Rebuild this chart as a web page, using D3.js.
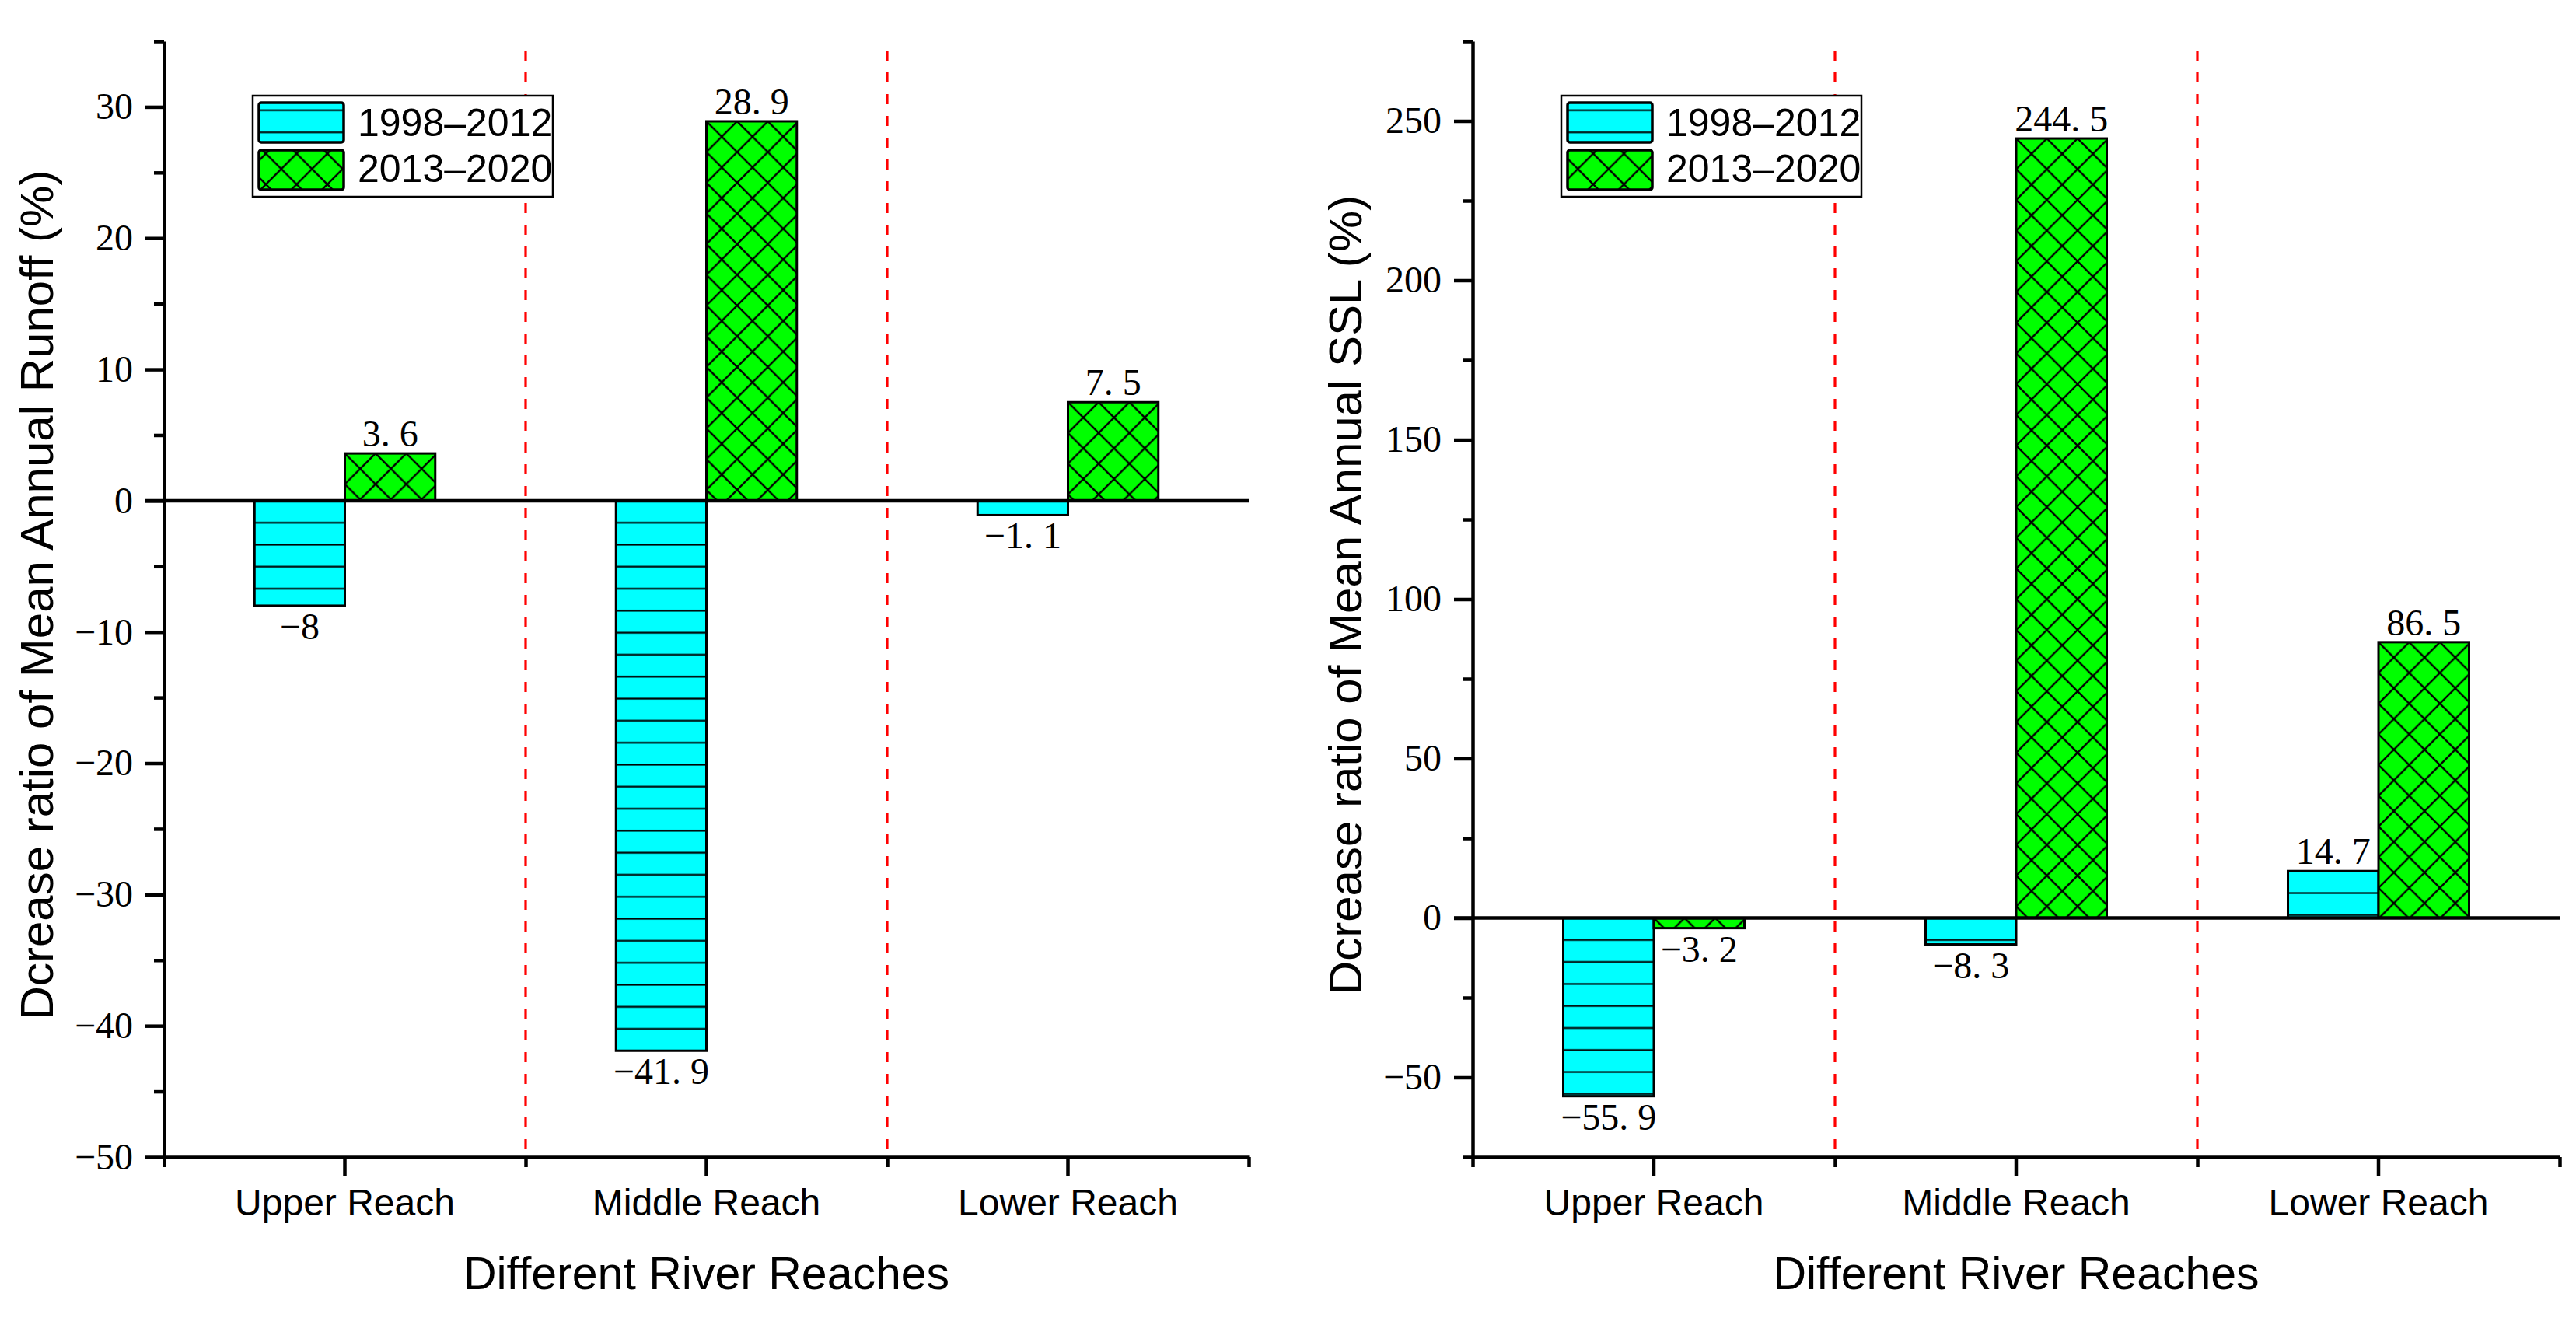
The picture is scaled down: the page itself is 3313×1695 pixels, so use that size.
<!DOCTYPE html>
<html>
<head>
<meta charset="utf-8">
<script src="https://cdn.jsdelivr.net/npm/d3@7"></script>
<style>
  body { margin: 0; background: #fff; }
</style>
</head>
<body>
<div id="canvas"></div>
<script>
var reaches = ["Upper Reach", "Middle Reach", "Lower Reach"]
var periods = ["1998\u20132012", "2013\u20132020"]

// left panel: runoff
var runoff1998 = [-8, -41.9, -1.1]
var runoff2013 = [3.6, 28.9, 7.5]
var runoffMajor = [-50, -40, -30, -20, -10, 0, 10, 20, 30]
var runoffMinor = [-45, -35, -25, -15, -5, 5, 15, 25, 35]

// right panel: SSL
var ssl1998 = [-55.9, -8.3, 14.7]
var ssl2013 = [-3.2, 244.5, 86.5]
var sslMajor = [-50, 0, 50, 100, 150, 200, 250]
var sslMinor = [-75, -25, 25, 75, 125, 175, 225, 275]

var width = 3313
var height = 1695
var plotTop = 53
var plotBottom = 1488

var cyan = "#00ffff"
var green = "#00ff00"
var serif = "'Liberation Serif', 'Times New Roman', serif"
var sans = "'Liberation Sans', Arial, sans-serif"

var svg = d3.select("#canvas")
    .append("svg")
    .attr("width", width)
    .attr("height", height)
    .style("display", "block")

svg.append("rect").attr("width", width).attr("height", height).attr("fill", "#fff")

var defs = svg.append("defs")
var patCount = 0

// hatch patterns are anchored at the top-left corner of each shape
function hatch(kind, x, y) {
    var id = "pat" + (patCount++)
    if (kind == 0) {
        var h = 28.3
        var p = defs.append("pattern")
            .attr("id", id)
            .attr("patternUnits", "userSpaceOnUse")
            .attr("width", 20)
            .attr("height", h)
            .attr("patternTransform", `translate(${x},${y - h / 2})`)
        p.append("rect").attr("width", 20).attr("height", h).attr("fill", cyan)
        p.append("line").attr("x1", 0).attr("x2", 20).attr("y1", h / 2).attr("y2", h / 2)
            .attr("stroke", "#000").attr("stroke-width", 2.2)
    } else {
        var s = 39.5
        var p = defs.append("pattern")
            .attr("id", id)
            .attr("patternUnits", "userSpaceOnUse")
            .attr("width", s)
            .attr("height", s)
            .attr("patternTransform", `translate(${x},${y})`)
        p.append("rect").attr("width", s).attr("height", s).attr("fill", green)
        p.append("path")
            .attr("d", `M0,0L${s},${s}M${s},0L0,${s}M-4,${s - 4}L4,${s + 4}M${s - 4},-4L${s + 4},4M-4,4L4,-4M${s - 4},${s + 4}L${s + 4},${s - 4}`)
            .attr("stroke", "#000").attr("stroke-width", 2.4).attr("fill", "none")
    }
    return "url(#" + id + ")"
}

function fmt(v) {
    var a = Math.abs(v)
    var s = Number.isInteger(a) ? String(a) : a.toFixed(1).replace(".", ". ")
    return (v < 0 ? "\u2212" : "") + s
}

function drawPanel(o) {
    var g = svg.append("g")

    var xScale = d3.scaleBand().domain(reaches).range([o.x0, o.x1])
    var xEdges = d3.scaleLinear().domain([0, 3]).range([o.x0, o.x1])
    var yScale = d3.scaleLinear().domain(o.domain).range([plotBottom, plotTop])
    var bw = xScale.bandwidth() / 4

    // red dashed separators
    g.selectAll(".sep")
        .data([1, 2])
        .enter().append("line")
        .attr("x1", d => xEdges(d)).attr("x2", d => xEdges(d))
        .attr("y1", 65).attr("y2", plotBottom)
        .attr("stroke", "#ff0000")
        .attr("stroke-width", 3.2)
        .attr("stroke-dasharray", "13,15")

    // bars
    var rows = []
    reaches.forEach(function (r, i) {
        rows.push({ reach: r, s: 0, v: o.a[i] })
        rows.push({ reach: r, s: 1, v: o.b[i] })
    })
    rows.forEach(function (d) {
        d.x = xScale(d.reach) + xScale.bandwidth() / 2 + (d.s == 0 ? -bw : 0)
        d.top = yScale(Math.max(0, d.v))
        d.h = Math.abs(yScale(d.v) - yScale(0))
    })
    g.selectAll(".bar")
        .data(rows)
        .enter().append("rect")
        .attr("class", "bar")
        .attr("x", d => d.x)
        .attr("y", d => d.top)
        .attr("width", bw)
        .attr("height", d => d.h)
        .attr("fill", d => hatch(d.s, d.x, d.top))
        .attr("stroke", "#000")
        .attr("stroke-width", 3)

    // zero line
    g.append("line")
        .attr("x1", o.x0 - 24).attr("x2", o.x1)
        .attr("y1", yScale(0)).attr("y2", yScale(0))
        .attr("stroke", "#000").attr("stroke-width", 4.5)

    // value labels
    g.selectAll(".val")
        .data(rows)
        .enter().append("text")
        .attr("x", d => d.x + bw / 2)
        .attr("y", d => d.v >= 0 ? yScale(d.v) - 9 : yScale(d.v) + 43)
        .attr("text-anchor", "middle")
        .style("font-family", serif)
        .style("font-size", "48px")
        .text(d => fmt(d.v))

    // y axis
    var yAxis = g.append("g")
        .attr("transform", `translate(${o.x0},0)`)
        .call(d3.axisLeft(yScale).tickValues(o.major).tickSize(24).tickSizeOuter(0).tickPadding(16))
    yAxis.selectAll("text").style("font-family", serif).style("font-size", "48px").attr("fill", "#000")
    yAxis.selectAll("line").attr("stroke-width", 4.5)
    yAxis.select(".domain").attr("stroke-width", 4.5)

    var yMinor = g.append("g")
        .attr("transform", `translate(${o.x0},0)`)
        .call(d3.axisLeft(yScale).tickValues(o.minor).tickSize(13).tickSizeOuter(0).tickFormat(""))
    yMinor.selectAll("line").attr("stroke-width", 4.5)
    yMinor.select(".domain").remove()

    // x axis
    var xAxis = g.append("g")
        .attr("transform", `translate(0,${plotBottom})`)
        .call(d3.axisBottom(xScale).tickSize(25).tickSizeOuter(0).tickPadding(16))
    xAxis.selectAll("text").style("font-family", sans).style("font-size", "48px").attr("fill", "#000")
    xAxis.selectAll("line").attr("stroke-width", 4.5)
    xAxis.select(".domain").attr("stroke-width", 4.5)

    var xMinor = g.append("g")
        .attr("transform", `translate(0,${plotBottom})`)
        .call(d3.axisBottom(xEdges).tickValues([0, 1, 2, 3]).tickSize(13).tickSizeOuter(0).tickFormat(""))
    xMinor.selectAll("line").attr("stroke-width", 4.5)
    xMinor.select(".domain").remove()

    // axis titles
    g.append("text")
        .attr("transform", `translate(${o.x0 - 143},765) rotate(-90)`)
        .attr("text-anchor", "middle")
        .style("font-family", sans)
        .style("font-size", "60px")
        .text(o.title)

    g.append("text")
        .attr("x", (o.x0 + o.x1) / 2)
        .attr("y", 1658)
        .attr("text-anchor", "middle")
        .style("font-family", sans)
        .style("font-size", "59px")
        .text("Different River Reaches")

    // legend
    var lg = g.append("g").attr("transform", `translate(${o.x0 + 114},123)`)
    lg.append("rect")
        .attr("width", 386).attr("height", 130)
        .attr("fill", "#fff").attr("stroke", "#000").attr("stroke-width", 2.5)
    periods.forEach(function (p, i) {
        var sy = i == 0 ? 9 : 70
        lg.append("rect")
            .attr("x", 8).attr("y", sy)
            .attr("width", 109).attr("height", 51)
            .attr("rx", 3)
            .attr("fill", hatch(i, o.x0 + 114 + 8, 123 + sy))
            .attr("stroke", "#000").attr("stroke-width", 3.5)
        lg.append("text")
            .attr("x", 135).attr("y", i == 0 ? 52 : 111)
            .style("font-family", sans)
            .style("font-size", "50px")
            .text(p)
    })
}

drawPanel({
    x0: 211, x1: 1606,
    domain: [-50, 35],
    major: runoffMajor, minor: runoffMinor,
    a: runoff1998, b: runoff2013,
    title: "Dcrease ratio of Mean Annual Runoff (%)"
})

drawPanel({
    x0: 1894, x1: 3292,
    domain: [-75, 275],
    major: sslMajor, minor: sslMinor,
    a: ssl1998, b: ssl2013,
    title: "Dcrease ratio of Mean Annual SSL (%)"
})
</script>
</body>
</html>
